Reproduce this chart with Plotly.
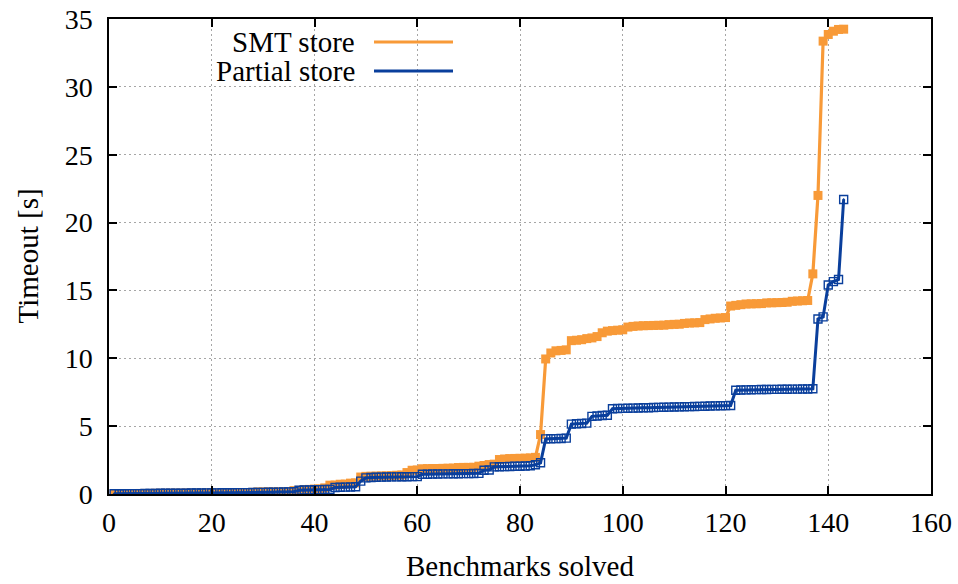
import plotly.graph_objects as go

# ---------------- data ----------------
benchmarks = list(range(1, 144))

smt_store = [
    0.02, 0.02, 0.03, 0.03, 0.03, 0.04, 0.04, 0.04, 0.05, 0.05,
    0.05, 0.06, 0.06, 0.06, 0.07, 0.07, 0.07, 0.08, 0.08, 0.08,
    0.09, 0.09, 0.09, 0.10, 0.10, 0.10, 0.11, 0.12,
    0.15, 0.15, 0.16, 0.16, 0.17, 0.17, 0.18,
    0.25, 0.27,
    0.33, 0.34, 0.36, 0.38,
    0.45,
    0.65, 0.66,
    0.72, 0.73,
    0.80, 0.82,
    1.25,
    1.30, 1.31, 1.32, 1.33, 1.34, 1.35,
    1.38, 1.40, 1.58, 1.75, 1.77,
    1.86, 1.87, 1.88, 1.88, 1.89, 1.90, 1.91,
    1.95, 1.96, 1.96, 1.97,
    2.05, 2.10, 2.17, 2.20,
    2.54, 2.58,
    2.61, 2.62, 2.63, 2.64, 2.66, 2.70,
    4.38, 9.95, 10.39, 10.55, 10.58, 10.62,
    11.30, 11.33, 11.37, 11.45, 11.50, 11.60,
    11.88, 12.00, 12.04, 12.07, 12.10,
    12.30, 12.35, 12.38,
    12.40, 12.41, 12.42, 12.43, 12.44,
    12.48, 12.50, 12.51,
    12.57, 12.60, 12.61, 12.63,
    12.85, 12.90,
    12.95, 12.97, 13.00,
    13.85, 13.90, 13.95,
    14.00, 14.01, 14.02, 14.03,
    14.08, 14.09, 14.10, 14.11, 14.13,
    14.20, 14.22, 14.24, 14.26,
    16.22, 22.00, 33.37, 33.86, 34.10, 34.23, 34.25,
]

partial_store = [
    0.02, 0.02, 0.02, 0.03, 0.03, 0.03, 0.04, 0.04, 0.04, 0.05,
    0.05, 0.05, 0.06, 0.06, 0.06, 0.07, 0.07, 0.07, 0.08, 0.08,
    0.08, 0.09, 0.09, 0.09, 0.10, 0.10, 0.10, 0.11,
    0.12, 0.12, 0.13, 0.13, 0.14, 0.15, 0.16, 0.17,
    0.28, 0.29, 0.30, 0.31, 0.32, 0.33, 0.34,
    0.48, 0.50, 0.51, 0.52, 0.53,
    0.95, 1.19,
    1.22, 1.23, 1.24, 1.25, 1.26, 1.26, 1.27, 1.27, 1.28, 1.28,
    1.45, 1.46, 1.47, 1.47, 1.48, 1.48, 1.49, 1.49, 1.50, 1.50, 1.51, 1.52,
    1.75, 1.77,
    2.00, 2.01, 2.02, 2.03, 2.04, 2.05, 2.06, 2.08, 2.15, 2.30,
    4.06, 4.07, 4.08, 4.09, 4.12,
    5.15, 5.18, 5.20, 5.22,
    5.72, 5.75, 5.78, 5.80,
    6.28, 6.30, 6.31, 6.32, 6.33, 6.34, 6.35, 6.36, 6.37, 6.38, 6.39, 6.40,
    6.41, 6.42, 6.43, 6.44, 6.45, 6.46, 6.47, 6.48, 6.49, 6.50, 6.51, 6.52,
    7.65, 7.66, 7.67, 7.68, 7.69, 7.70, 7.70, 7.71, 7.71, 7.72, 7.72, 7.73,
    7.73, 7.74, 7.74, 7.75,
    12.90, 13.05, 15.40, 15.65, 15.80, 21.70,
]

assert len(smt_store) == len(benchmarks), len(smt_store)
assert len(partial_store) == len(benchmarks), len(partial_store)

series_names = ["SMT store", "Partial store"]
x_ticks = [0, 20, 40, 60, 80, 100, 120, 140, 160]
y_ticks = [0, 5, 10, 15, 20, 25, 30, 35]

ORANGE = "#f89a38"
BLUE = "#0a3f9c"
FONT = "Liberation Serif"

fig = go.Figure()
fig.add_trace(go.Scatter(
    x=benchmarks, y=smt_store, name=series_names[0], mode="lines+markers",
    line=dict(color=ORANGE, width=3.2),
    marker=dict(symbol="square", size=9, color=ORANGE, line=dict(width=0)),
    showlegend=False,
))
fig.add_trace(go.Scatter(
    x=benchmarks, y=partial_store, name=series_names[1], mode="lines+markers",
    line=dict(color=BLUE, width=3),
    marker=dict(symbol="square-open-dot", size=8, color=BLUE, line=dict(width=1.4, color=BLUE)),
    showlegend=False,
))

axis_common = dict(
    showline=True, linecolor="black", linewidth=1.5, mirror="ticks",
    ticks="inside", ticklen=8, tickwidth=1.5, tickcolor="black",
    showgrid=True, gridcolor="#a6a6a6", gridwidth=1, griddash="2px,3px",
    zeroline=False, automargin=False,
    tickfont=dict(family=FONT, size=28, color="black"),
)

fig.update_xaxes(range=[0, 160], tickvals=x_ticks, ticklabelstandoff=3, **axis_common)
fig.update_yaxes(range=[0, 35], tickvals=y_ticks, ticklabelstandoff=9, **axis_common)

# plot area in pixels (for placing gnuplot-style legend inside)
plot_l, plot_r, plot_t, plot_b = 109, 931, 19, 494


def px_x(p):
    return (p - plot_l) / (plot_r - plot_l)


def px_y(p):
    return (plot_b - p) / (plot_b - plot_t)


legend_rows = [(series_names[0], ORANGE, 42), (series_names[1], BLUE, 71)]
for name, col, ypx in legend_rows:
    fig.add_annotation(
        x=px_x(357), y=px_y(ypx), xref="paper", yref="paper",
        text=name, showarrow=False, xanchor="right", yanchor="middle",
        font=dict(family=FONT, size=29, color="black"),
    )
    fig.add_shape(
        type="line", xref="paper", yref="paper",
        x0=px_x(374), x1=px_x(453), y0=px_y(ypx), y1=px_y(ypx),
        line=dict(color=col, width=3),
    )

fig.add_annotation(
    x=0.5, y=0, xref="paper", yref="paper", yshift=-72,
    text="Benchmarks solved", showarrow=False, xanchor="center", yanchor="middle",
    font=dict(family=FONT, size=29, color="black"),
)
fig.add_annotation(
    x=0, y=0.5, xref="paper", yref="paper", xshift=-82,
    text="Timeout [s]", showarrow=False, xanchor="center", yanchor="middle",
    textangle=-90, font=dict(family=FONT, size=29, color="black"),
)

fig.update_layout(
    width=958, height=584,
    margin=dict(l=plot_l, r=958 - plot_r, t=plot_t, b=584 - plot_b, autoexpand=False),
    paper_bgcolor="white", plot_bgcolor="white",
    showlegend=False,
)

fig.write_html("out.html")
